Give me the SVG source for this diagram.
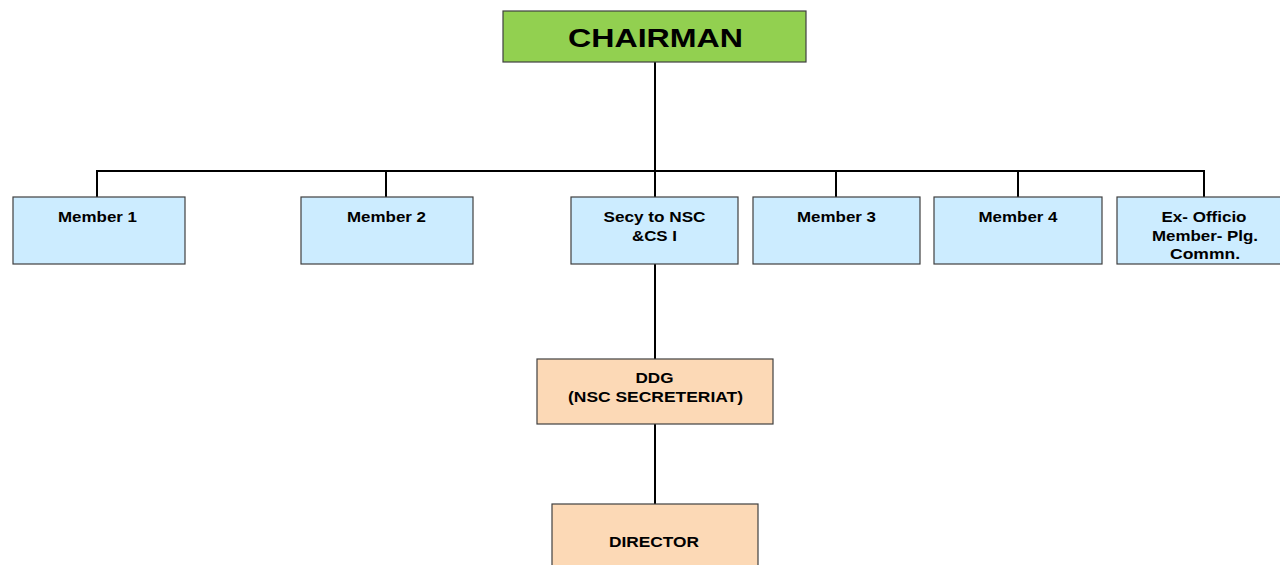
<svg xmlns="http://www.w3.org/2000/svg" width="1280" height="565" viewBox="0 0 1280 565">
<style>
.box{stroke:#404040;stroke-width:1.2}
.g{fill:#92D050}
.b{fill:#CCECFF}
.p{fill:#FCD9B6}
.t{font-family:"Liberation Sans",Arial,sans-serif;font-weight:bold;fill:#000;text-anchor:middle}
.s{font-size:15px}
.c{stroke:#000;stroke-width:2;fill:none}
</style>
<rect width="1280" height="565" fill="#fff"/>
<g id="connectors">
<line class="c" x1="655" y1="62" x2="655" y2="197"/>
<polyline class="c" points="97,197 97,171 1204,171 1204,197"/>
<line class="c" x1="386" y1="171" x2="386" y2="197"/>
<line class="c" x1="836" y1="171" x2="836" y2="197"/>
<line class="c" x1="1018" y1="171" x2="1018" y2="197"/>
<line class="c" x1="655" y1="264" x2="655" y2="359"/>
<line class="c" x1="655" y1="424" x2="655" y2="504"/>
</g>
<g id="chairman">
<rect class="box g" x="503" y="11" width="303" height="51"/>
<text class="t" x="655.5" y="47" font-size="26" textLength="175" lengthAdjust="spacingAndGlyphs">CHAIRMAN</text>
</g>
<g id="member1">
<rect class="box b" x="13" y="197" width="172" height="67"/>
<text class="t s" x="97.5" y="222" textLength="79" lengthAdjust="spacingAndGlyphs">Member 1</text>
</g>
<g id="member2">
<rect class="box b" x="301" y="197" width="172" height="67"/>
<text class="t s" x="386.5" y="222" textLength="79" lengthAdjust="spacingAndGlyphs">Member 2</text>
</g>
<g id="secy">
<rect class="box b" x="571" y="197" width="167" height="67"/>
<text class="t s" x="654.5" y="222" textLength="102" lengthAdjust="spacingAndGlyphs">Secy to NSC</text>
<text class="t s" x="654.5" y="241" textLength="45" lengthAdjust="spacingAndGlyphs">&amp;CS I</text>
</g>
<g id="member3">
<rect class="box b" x="753" y="197" width="167" height="67"/>
<text class="t s" x="836.5" y="222" textLength="79" lengthAdjust="spacingAndGlyphs">Member 3</text>
</g>
<g id="member4">
<rect class="box b" x="934" y="197" width="168" height="67"/>
<text class="t s" x="1018" y="222" textLength="79" lengthAdjust="spacingAndGlyphs">Member 4</text>
</g>
<g id="exofficio">
<rect class="box b" x="1117" y="197" width="175" height="67"/>
<text class="t s" x="1204" y="222" textLength="85" lengthAdjust="spacingAndGlyphs">Ex- Officio</text>
<text class="t s" x="1205" y="241" textLength="106" lengthAdjust="spacingAndGlyphs">Member- Plg.</text>
<text class="t s" x="1205" y="259" textLength="70" lengthAdjust="spacingAndGlyphs">Commn.</text>
</g>
<g id="ddg">
<rect class="box p" x="537" y="359" width="236" height="65"/>
<text class="t s" x="654.5" y="383" textLength="38" lengthAdjust="spacingAndGlyphs">DDG</text>
<text class="t s" x="655.5" y="402" textLength="175" lengthAdjust="spacingAndGlyphs">(NSC SECRETERIAT)</text>
</g>
<g id="director">
<rect class="box p" x="552" y="504" width="206" height="70"/>
<text class="t s" x="654" y="547" textLength="90" lengthAdjust="spacingAndGlyphs">DIRECTOR</text>
</g>
</svg>
